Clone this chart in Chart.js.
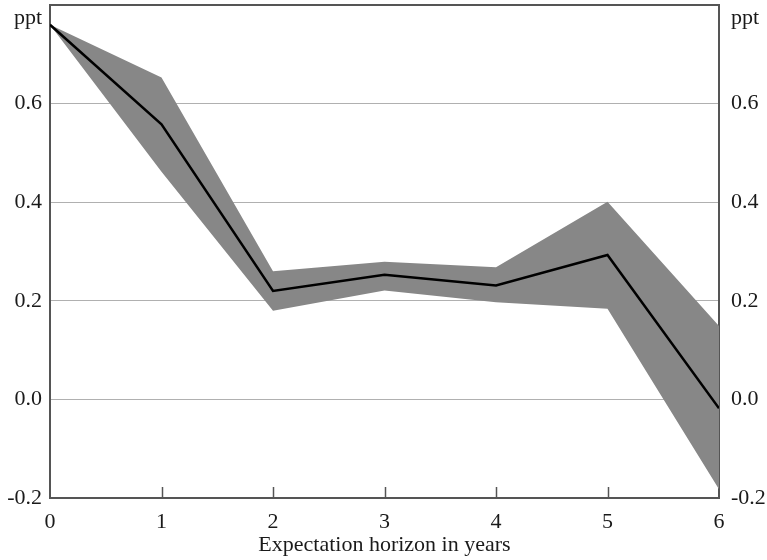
<!DOCTYPE html>
<html>
<head>
<meta charset="utf-8">
<title>Expectation horizon response</title>
<script src="https://cdn.jsdelivr.net/npm/chart.js@4.4.1/dist/chart.umd.min.js"></script>
<style>
  html, body { margin: 0; padding: 0; background: #ffffff; }
  #wrap { width: 767px; height: 560px; position: relative; }
</style>
</head>
<body>
<div id="wrap"><canvas id="chart" width="767" height="560"></canvas></div>
<script>
// Expectation horizon (years)
const horizon = [0, 1, 2, 3, 4, 5, 6];
// Point estimate (ppt)
const estimate = [0.76, 0.558, 0.220, 0.253, 0.231, 0.293, -0.018];
// Confidence band bounds (ppt)
const upperBand = [0.76, 0.653, 0.260, 0.279, 0.268, 0.401, 0.149];
const lowerBand = [0.76, 0.462, 0.180, 0.221, 0.197, 0.184, -0.182];
// Y axis range and tick step
const yMin = -0.2, yMax = 0.8, yStep = 0.2;
const unitLabel = 'ppt';
const xTitle = 'Expectation horizon in years';

const FONT = { family: "'Liberation Serif', 'Times New Roman', serif", size: 22 };
const AXIS = '#555555';
const GRID = '#b0b0b0';
const TEXT = '#1a1a1a';

const pts = arr => arr.map((v, i) => ({ x: horizon[i], y: v }));
const near = (a, b) => Math.abs(a - b) < 1e-6;

function tickText(value) {
  if (near(value, yMax)) return ['', unitLabel];
  return value.toFixed(1);
}

// fixed axis band sizes so the plot frame sits where intended
function fixedWidth(w) {
  return scale => {
    scale.width = w;
    scale.paddingTop = 0;
    scale.paddingBottom = 0;
  };
}
function fixedHeight(h) {
  return scale => {
    scale.height = h;
    scale.paddingLeft = 0;
    scale.paddingRight = 0;
  };
}

// short tick marks pointing into the plot from the bottom axis
const innerTicks = {
  id: 'innerTicks',
  afterDraw(chart) {
    const x = chart.scales.x;
    const ctx = chart.ctx;
    const bottom = chart.chartArea.bottom;
    ctx.save();
    ctx.strokeStyle = AXIS;
    ctx.lineWidth = 1.5;
    horizon.forEach(h => {
      if (h === horizon[0] || h === horizon[horizon.length - 1]) return;
      const px = Math.round(x.getPixelForValue(h)) + 0.5;
      ctx.beginPath();
      ctx.moveTo(px, bottom);
      ctx.lineTo(px, bottom - 11);
      ctx.stroke();
    });
    ctx.restore();
  }
};

const yAxisBase = {
  type: 'linear',
  min: yMin,
  max: yMax,
  border: { display: true, color: AXIS, width: 2 },
  ticks: {
    stepSize: yStep,
    autoSkip: false,
    color: TEXT,
    font: FONT,
    callback: tickText
  }
};

new Chart(document.getElementById('chart'), {
  type: 'line',
  data: {
    datasets: [
      {
        label: 'Estimate',
        data: pts(estimate),
        borderColor: '#000000',
        borderWidth: 2.5,
        pointRadius: 0,
        fill: false,
        tension: 0
      },
      {
        label: 'Upper bound',
        data: pts(upperBand),
        borderWidth: 0,
        borderColor: 'rgba(0,0,0,0)',
        backgroundColor: '#878787',
        pointRadius: 0,
        fill: '+1',
        tension: 0
      },
      {
        label: 'Lower bound',
        data: pts(lowerBand),
        borderWidth: 0,
        borderColor: 'rgba(0,0,0,0)',
        pointRadius: 0,
        fill: false,
        tension: 0
      }
    ]
  },
  options: {
    responsive: false,
    animation: false,
    layout: { padding: { left: 0, right: 0, top: 5, bottom: 0 } },
    plugins: {
      legend: { display: false },
      tooltip: { enabled: false }
    },
    scales: {
      x: {
        type: 'linear',
        min: horizon[0],
        max: horizon[horizon.length - 1],
        afterFit: fixedHeight(62),
        border: { display: true, color: AXIS, width: 2 },
        grid: { display: false, drawTicks: false },
        ticks: { stepSize: 1, color: TEXT, font: FONT, padding: 11 },
        title: {
          display: true,
          text: xTitle,
          color: TEXT,
          font: FONT,
          padding: { top: 0, bottom: 2 }
        }
      },
      y: Object.assign({}, yAxisBase, {
        position: 'left',
        afterFit: fixedWidth(50),
        grid: {
          drawTicks: false,
          color: c => near(c.tick.value, yMax) ? AXIS : (near(c.tick.value, yMin) ? 'rgba(0,0,0,0)' : GRID),
          lineWidth: c => near(c.tick.value, yMax) ? 2 : 1
        },
        ticks: Object.assign({}, yAxisBase.ticks, { padding: 8 })
      }),
      y2: Object.assign({}, yAxisBase, {
        position: 'right',
        afterFit: fixedWidth(48),
        grid: { drawOnChartArea: false, drawTicks: false },
        ticks: Object.assign({}, yAxisBase.ticks, { padding: 12 })
      })
    }
  },
  plugins: [innerTicks]
});
</script>
</body>
</html>
